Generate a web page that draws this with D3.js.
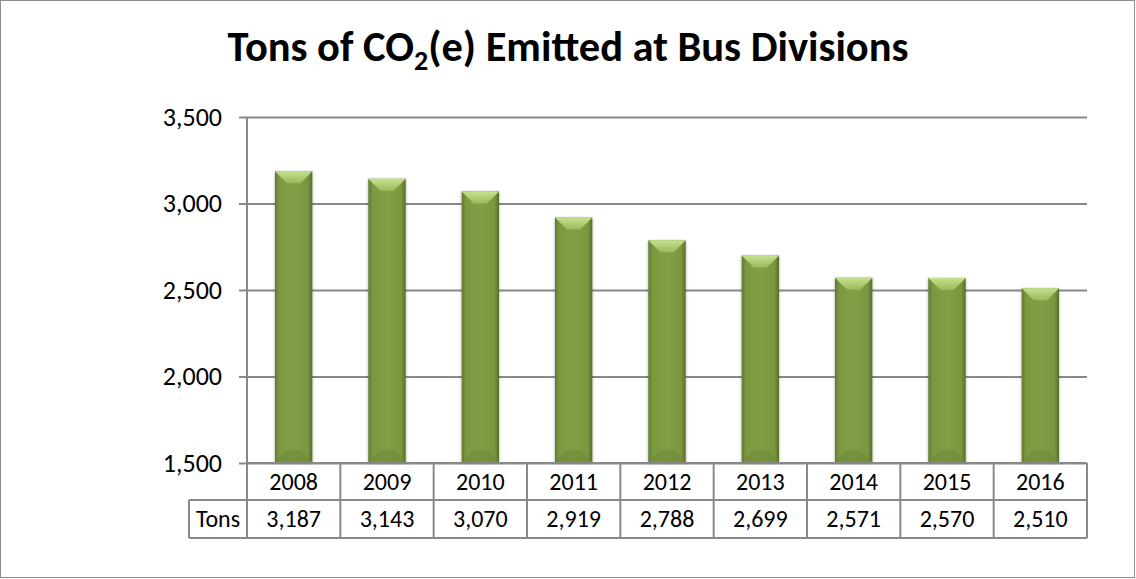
<!DOCTYPE html>
<html>
<head>
<meta charset="utf-8">
<script src="https://cdn.jsdelivr.net/npm/d3@7"></script>
<style>
  html, body { margin: 0; padding: 0; background: #fff; }
  svg { display: block; }
</style>
</head>
<body>
<script>
// Chart data
const years = ["2008", "2009", "2010", "2011", "2012", "2013", "2014", "2015", "2016"];
const tons = [3187, 3143, 3070, 2919, 2788, 2699, 2571, 2570, 2510];
const yTicks = [1500, 2000, 2500, 3000, 3500];
const seriesName = "Tons";

const W = 1136, H = 579;
const plot = { left: 247, right: 1087, top: 117, bottom: 463 };
const rowH = [37, 38];
const font = "Carlito, Calibri, 'Open Sans', sans-serif";
const gridColor = "#888888";

const svg = d3.select("body").append("svg")
  .attr("width", W).attr("height", H);

const defs = svg.append("defs");
// horizontal shading across each bar body
const body = defs.append("linearGradient").attr("id", "barBody")
  .attr("x1", 0).attr("x2", 1).attr("y1", 0).attr("y2", 0);
[["0%", "#5f7a2e"], ["12%", "#7b9a40"], ["50%", "#829f46"], ["88%", "#7a973f"], ["100%", "#566f28"]]
  .forEach(([o, c]) => body.append("stop").attr("offset", o).attr("stop-color", c));
const bevel = defs.append("linearGradient").attr("id", "barTop")
  .attr("x1", 0).attr("x2", 0).attr("y1", 0).attr("y2", 1);
[["0%", "#c6e290"], ["100%", "#9aba5a"]]
  .forEach(([o, c]) => bevel.append("stop").attr("offset", o).attr("stop-color", c));
const shadow = defs.append("filter").attr("id", "shadow")
  .attr("x", "-30%").attr("y", "-10%").attr("width", "160%").attr("height", "120%");
shadow.append("feDropShadow").attr("dx", 0).attr("dy", 1).attr("stdDeviation", 1.5)
  .attr("flood-color", "#000").attr("flood-opacity", 0.35);

// outer frame
svg.append("rect").attr("x", 0.5).attr("y", 0.5).attr("width", W - 2).attr("height", H - 2)
  .attr("fill", "#fff").attr("stroke", "#8c8c8c").attr("stroke-width", 1);

// title with subscript
const title = svg.append("text")
  .attr("x", 568).attr("y", 61)
  .attr("text-anchor", "middle")
  .attr("font-family", font).attr("font-weight", "bold").attr("font-size", 42.5)
  .attr("fill", "#000");
title.append("tspan").text("Tons of CO");
title.append("tspan").attr("font-size", 28).attr("dy", 9).text("2");
title.append("tspan").attr("dy", -9).text("(e) Emitted at Bus Divisions");

const x = d3.scaleBand().domain(years).range([plot.left, plot.right]).paddingInner(0.6).paddingOuter(0.3);
const xCol = d3.scaleBand().domain(years).range([plot.left, plot.right]);
const y = d3.scaleLinear().domain([1500, 3500]).range([plot.bottom, plot.top]);

// gridlines and tick marks
svg.append("g").attr("class", "grid")
  .attr("transform", `translate(${plot.right},0)`)
  .call(d3.axisLeft(y).tickValues(yTicks).tickSize(plot.right - plot.left + 8).tickFormat(""))
  .call(g => g.select(".domain").remove())
  .call(g => g.selectAll("line").attr("stroke", gridColor).attr("stroke-width", 2));

// value axis labels
svg.append("g")
  .attr("transform", `translate(${plot.left},0)`)
  .call(d3.axisLeft(y).tickValues(yTicks).tickSize(0).tickPadding(25).tickFormat(d3.format(",")))
  .call(g => g.select(".domain").remove())
  .call(g => g.selectAll("text").attr("font-family", font).attr("font-size", 26).attr("fill", "#000"));

// vertical axis line
svg.append("line").attr("x1", plot.left).attr("x2", plot.left)
  .attr("y1", plot.top).attr("y2", plot.bottom)
  .attr("stroke", gridColor).attr("stroke-width", 2);

// bars
const bev = 12;
const bars = svg.append("g").selectAll("g").data(years.map((yr, i) => ({ yr, v: tons[i] })))
  .join("g").attr("filter", "url(#shadow)");
bars.append("rect")
  .attr("x", d => x(d.yr)).attr("width", x.bandwidth())
  .attr("y", d => y(d.v)).attr("height", d => y(1500) - y(d.v) - 1)
  .attr("fill", "url(#barBody)");
bars.append("path")
  .attr("d", d => {
    const x0 = x(d.yr), x1 = x0 + x.bandwidth(), t = y(d.v);
    return `M${x0},${t}L${x1},${t}L${x1 - bev},${t + bev}L${x0 + bev},${t + bev}Z`;
  })
  .attr("fill", "url(#barTop)");
bars.append("path")
  .attr("d", d => {
    const x0 = x(d.yr), x1 = x0 + x.bandwidth(), b = y(1500) - 1;
    return `M${x0},${b}L${x1},${b}L${x1 - bev},${b - bev}L${x0 + bev},${b - bev}Z`;
  })
  .attr("fill", "#6f8b37").attr("opacity", 0.6);

// data table under the plot
const table = svg.append("g").attr("font-family", font).attr("font-size", 24).attr("fill", "#000");
const r0 = plot.bottom, r1 = r0 + rowH[0], r2 = r1 + rowH[1];
const labelLeft = 189;
const lines = [];
lines.push([plot.left, r0, plot.right, r0]);
lines.push([labelLeft, r1, plot.right, r1]);
lines.push([labelLeft, r2, plot.right, r2]);
lines.push([labelLeft, r1, labelLeft, r2]);
lines.push([plot.left, r0, plot.left, r2]);
years.forEach(yr => lines.push([xCol(yr) + xCol.bandwidth(), r0, xCol(yr) + xCol.bandwidth(), r2]));
table.selectAll("line").data(lines).join("line")
  .attr("x1", d => d[0]).attr("y1", d => d[1]).attr("x2", d => d[2]).attr("y2", d => d[3])
  .attr("stroke", gridColor).attr("stroke-width", 2);

table.selectAll("text.yr").data(years).join("text").attr("class", "yr")
  .attr("x", d => xCol(d) + xCol.bandwidth() / 2).attr("y", r0 + rowH[0] / 2 + 8)
  .attr("text-anchor", "middle").text(d => d);
table.selectAll("text.val").data(tons).join("text").attr("class", "val")
  .attr("x", (d, i) => xCol(years[i]) + xCol.bandwidth() / 2).attr("y", r1 + rowH[1] / 2 + 8)
  .attr("text-anchor", "middle").text(d => d3.format(",")(d));
table.append("text").attr("x", (labelLeft + plot.left) / 2).attr("y", r1 + rowH[1] / 2 + 8)
  .attr("text-anchor", "middle").text(seriesName);
</script>
</body>
</html>
